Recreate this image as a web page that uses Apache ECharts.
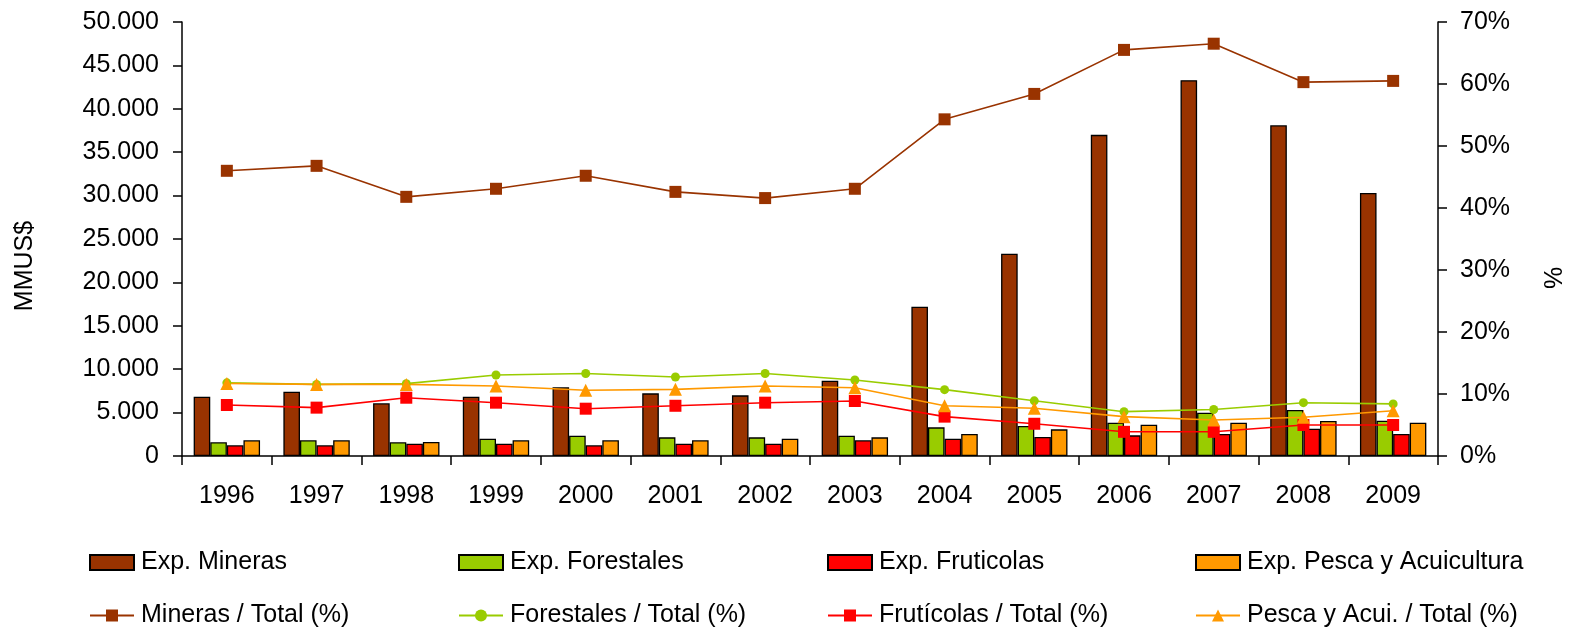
<!DOCTYPE html>
<html><head><meta charset="utf-8">
<script src="https://cdn.jsdelivr.net/npm/echarts@6/dist/echarts.min.js"></script>
<style>html,body{margin:0;padding:0;background:#fff}#c{width:1572px;height:629px}</style>
</head><body><div id="c"></div>
<script>
const years = ['1996','1997','1998','1999','2000','2001','2002','2003','2004','2005','2006','2007','2008','2009'];
const expMineras = [6.83,7.41,6.07,6.83,7.91,7.22,6.99,8.67,17.2,23.3,37.0,43.3,38.1,30.3];
const expForestales = [1.58,1.81,1.58,2.0,2.34,2.15,2.15,2.34,3.3,3.46,3.84,4.99,5.3,4.07];
const expFruticolas = [1.23,1.23,1.42,1.42,1.23,1.42,1.42,1.81,2.0,2.19,2.38,2.53,3.15,2.53];
const expPesca = [1.81,1.81,1.61,1.81,1.81,1.81,2.0,2.15,2.53,3.07,3.6,3.84,4.03,3.84];
const pctMineras = [46.0,46.8,41.8,43.1,45.2,42.6,41.6,43.1,54.3,58.4,65.5,66.5,60.3,60.5];
const pctForestales = [11.8,11.55,11.67,13.06,13.3,12.74,13.3,12.26,10.7,8.9,7.15,7.5,8.6,8.4];
const pctFruticolas = [8.23,7.8,9.4,8.6,7.63,8.1,8.6,8.87,6.35,5.2,3.9,3.9,5.0,5.0];
const pctPesca = [11.7,11.55,11.55,11.3,10.6,10.75,11.3,11.0,8.1,7.7,6.35,5.8,6.24,7.3];

const C = {min:'#993300', for:'#99CC00', fru:'#FF0000', pes:'#FF9900'};
const FONT = 'Liberation Sans, Arial, sans-serif';
const FS = 25;
const chart = echarts.init(document.getElementById('c'));
const toMM = a => a.map(v => Math.round(v*1000));
function fmtThousands(v){ return String(Math.round(v)).replace(/\B(?=(\d{3})+(?!\d))/g,'.'); }
function barS(name, data, color){
  return {name, type:'bar', yAxisIndex:0, data:toMM(data), barGap:'0%', barCategoryGap:'26%',
    itemStyle:{color, borderColor:'#000', borderWidth:1.3}};
}
function lineS(name, data, color, symbol, size){
  return {name, type:'line', yAxisIndex:1, data, symbol, symbolSize:size,
    lineStyle:{color, width:1.6}, itemStyle:{color}, z:5};
}
const legendBase = {orient:'vertical', top:550, padding:0, itemGap:28, itemWidth:44, itemHeight:15,
  textStyle:{fontFamily:FONT, fontSize:FS, lineHeight:25, color:'#000', padding:[0,0,0,2]}, selectedMode:false};
chart.setOption({
  animation:false,
  textStyle:{fontFamily:FONT},
  grid:{left:182, right:134, top:22, bottom:173},
  legend:[
    Object.assign({left:89, data:[{name:'Exp. Mineras', icon:'rect'},'Mineras / Total (%)']}, legendBase),
    Object.assign({left:458, data:[{name:'Exp. Forestales', icon:'rect'},'Forestales / Total (%)']}, legendBase),
    Object.assign({left:827, data:[{name:'Exp. Fruticolas', icon:'rect'},'Frutícolas / Total (%)']}, legendBase),
    Object.assign({left:1195, data:[{name:'Exp. Pesca y Acuicultura', icon:'rect'},'Pesca y Acui. / Total (%)']}, legendBase)
  ],
  xAxis:{type:'category', data:years,
    axisLine:{lineStyle:{color:'#000', width:1.5}},
    axisTick:{show:true, length:9, lineStyle:{color:'#000', width:1.5}},
    axisLabel:{color:'#000', fontSize:FS, margin:28, fontFamily:FONT}},
  yAxis:[
    {type:'value', min:0, max:50000, interval:5000,
      axisLine:{show:true, lineStyle:{color:'#000', width:1.5}},
      axisTick:{show:true, length:9, lineStyle:{color:'#000', width:1.5}},
      splitLine:{show:false},
      axisLabel:{color:'#000', fontSize:FS, margin:23, fontFamily:FONT, formatter:fmtThousands}},
    {type:'value', min:0, max:70, interval:10, position:'right',
      axisLine:{show:true, lineStyle:{color:'#000', width:1.5}},
      axisTick:{show:true, length:9, lineStyle:{color:'#000', width:1.5}},
      splitLine:{show:false},
      axisLabel:{color:'#000', fontSize:FS, margin:22, fontFamily:FONT, formatter:'{value}%'}}
  ],
  graphic:[
    {type:'text', x:25, y:266, rotation:Math.PI/2, style:{text:'MMUS$', fill:'#000', font:FS+'px '+FONT, align:'center', verticalAlign:'middle'}},
    {type:'text', x:1555, y:278, rotation:Math.PI/2, style:{text:'%', fill:'#000', font:FS+'px '+FONT, align:'center', verticalAlign:'middle'}}
  ],
  series:[
    barS('Exp. Mineras', expMineras, C.min),
    barS('Exp. Forestales', expForestales, C.for),
    barS('Exp. Fruticolas', expFruticolas, C.fru),
    barS('Exp. Pesca y Acuicultura', expPesca, C.pes),
    lineS('Mineras / Total (%)', pctMineras, C.min, 'rect', 12),
    lineS('Forestales / Total (%)', pctForestales, C.for, 'circle', 9),
    lineS('Frutícolas / Total (%)', pctFruticolas, C.fru, 'rect', 12),
    lineS('Pesca y Acui. / Total (%)', pctPesca, C.pes, 'triangle', 13)
  ]
});
</script></body></html>
